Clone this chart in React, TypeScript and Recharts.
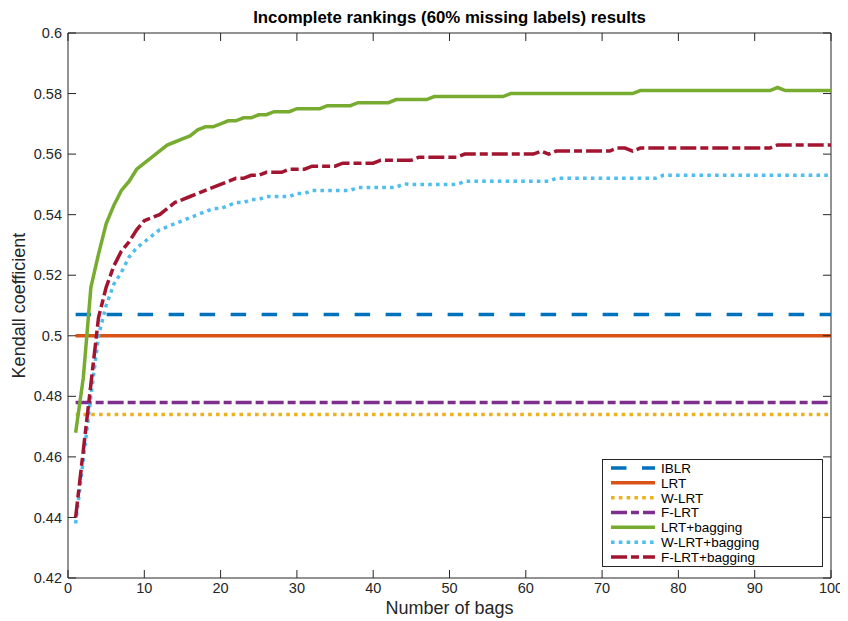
import { LineChart, Line, XAxis, YAxis, ReferenceLine, Legend } from "recharts";

// bag counts on the x axis
const bags = Array.from({ length: 100 }, (_, i) => i + 1);

// flat baselines (no bagging)
const iblr = 0.507;
const lrt = 0.5;
const wLrt = 0.474;
const fLrt = 0.478;

const lrtBagging = [
  0.468, 0.486, 0.516, 0.527, 0.537, 0.543, 0.548, 0.551, 0.555, 0.557,
  0.559, 0.561, 0.563, 0.564, 0.565, 0.566, 0.568, 0.569, 0.569, 0.570,
  0.571, 0.571, 0.572, 0.572, 0.573, 0.573, 0.574, 0.574, 0.574, 0.575,
  0.575, 0.575, 0.575, 0.576, 0.576, 0.576, 0.576, 0.577, 0.577, 0.577,
  0.577, 0.577, 0.578, 0.578, 0.578, 0.578, 0.578, 0.579, 0.579, 0.579,
  0.579, 0.579, 0.579, 0.579, 0.579, 0.579, 0.579, 0.580, 0.580, 0.580,
  0.580, 0.580, 0.580, 0.580, 0.580, 0.580, 0.580, 0.580, 0.580, 0.580,
  0.580, 0.580, 0.580, 0.580, 0.581, 0.581, 0.581, 0.581, 0.581, 0.581,
  0.581, 0.581, 0.581, 0.581, 0.581, 0.581, 0.581, 0.581, 0.581, 0.581,
  0.581, 0.581, 0.582, 0.581, 0.581, 0.581, 0.581, 0.581, 0.581, 0.581,
];

const wLrtBagging = [
  0.438, 0.459, 0.480, 0.500, 0.510, 0.517, 0.521, 0.526, 0.529, 0.531,
  0.533, 0.535, 0.536, 0.537, 0.538, 0.539, 0.540, 0.541, 0.542, 0.542,
  0.543, 0.544, 0.544, 0.545, 0.545, 0.546, 0.546, 0.546, 0.546, 0.547,
  0.547, 0.548, 0.548, 0.548, 0.548, 0.548, 0.548, 0.549, 0.549, 0.549,
  0.549, 0.549, 0.549, 0.5502, 0.550, 0.550, 0.550, 0.550, 0.550, 0.550,
  0.550, 0.551, 0.551, 0.551, 0.551, 0.551, 0.551, 0.551, 0.551, 0.551,
  0.551, 0.551, 0.551, 0.552, 0.552, 0.552, 0.552, 0.552, 0.552, 0.552,
  0.552, 0.552, 0.552, 0.552, 0.552, 0.552, 0.552, 0.553, 0.553, 0.553,
  0.553, 0.553, 0.553, 0.553, 0.553, 0.553, 0.553, 0.553, 0.553, 0.553,
  0.553, 0.553, 0.553, 0.553, 0.553, 0.553, 0.553, 0.553, 0.553, 0.553,
];

const fLrtBagging = [
  0.440, 0.462, 0.484, 0.506, 0.516, 0.523, 0.528, 0.531, 0.535, 0.538,
  0.539, 0.540, 0.542, 0.544, 0.545, 0.546, 0.547, 0.548, 0.549, 0.550,
  0.551, 0.552, 0.552, 0.553, 0.553, 0.554, 0.554, 0.554, 0.555, 0.555,
  0.555, 0.556, 0.556, 0.556, 0.556, 0.557, 0.557, 0.557, 0.557, 0.557,
  0.558, 0.558, 0.558, 0.558, 0.558, 0.559, 0.559, 0.559, 0.559, 0.559,
  0.559, 0.560, 0.560, 0.560, 0.560, 0.560, 0.560, 0.560, 0.560, 0.560,
  0.560, 0.561, 0.560, 0.561, 0.561, 0.561, 0.561, 0.561, 0.561, 0.561,
  0.561, 0.562, 0.562, 0.561, 0.562, 0.562, 0.562, 0.562, 0.562, 0.562,
  0.562, 0.562, 0.562, 0.562, 0.562, 0.562, 0.562, 0.562, 0.562, 0.562,
  0.562, 0.562, 0.563, 0.563, 0.563, 0.563, 0.563, 0.563, 0.563, 0.563,
];

const xTicks = [0, 10, 20, 30, 40, 50, 60, 70, 80, 90, 100];
const yTicks = [0.42, 0.44, 0.46, 0.48, 0.5, 0.52, 0.54, 0.56, 0.58, 0.6];

const data = bags.map((b, i) => ({
  bags: b,
  iblr,
  lrt,
  wLrt,
  fLrt,
  lrtBagging: lrtBagging[i],
  wLrtBagging: wLrtBagging[i],
  fLrtBagging: fLrtBagging[i],
}));

const DOTTED = "3.6 4.2";
const DASHED = "15.5 15.5";
const DASHDOT = "16 4 8 4";

const series = [
  { key: "iblr", name: "IBLR", color: "#0072BD", dash: DASHED },
  { key: "lrt", name: "LRT", color: "#D95319", dash: undefined },
  { key: "wLrt", name: "W-LRT", color: "#EDB120", dash: DOTTED },
  { key: "fLrt", name: "F-LRT", color: "#7E2F8E", dash: DASHDOT },
  { key: "lrtBagging", name: "LRT+bagging", color: "#77AC30", dash: undefined },
  { key: "wLrtBagging", name: "W-LRT+bagging", color: "#4DBEEE", dash: DOTTED },
  { key: "fLrtBagging", name: "F-LRT+bagging", color: "#A2142F", dash: DASHDOT },
];

const W = 840;
const H = 613;
const M = { top: 25, right: 17, left: 10, bottom: 0 };
const Y_AXIS_W = 50;
const X_AXIS_H = 43;
const PLOT_LEFT = M.left + Y_AXIS_W;
const PLOT_RIGHT = W - M.right;
const PLOT_TOP = M.top;
const PLOT_BOTTOM = H - X_AXIS_H;
const TICK_LEN = 8;
const INK = "#262626";
const FONT = "'Liberation Sans', Arial, Helvetica, sans-serif";

const fmt = (v: number) => String(+v.toFixed(2));

function XTick(props: any) {
  const { x, y, payload } = props;
  return (
    <g>
      <line x1={x} x2={x} y1={PLOT_BOTTOM} y2={PLOT_BOTTOM - TICK_LEN} stroke={INK} strokeWidth={1} />
      <line x1={x} x2={x} y1={PLOT_TOP} y2={PLOT_TOP + TICK_LEN} stroke={INK} strokeWidth={1} />
      <text x={x} y={y} dy="0.71em" textAnchor="middle" fill={INK} fontSize={14.5} fontFamily={FONT}>
        {fmt(payload.value)}
      </text>
    </g>
  );
}

function YTick(props: any) {
  const { x, y, payload } = props;
  return (
    <g>
      <line x1={PLOT_LEFT} x2={PLOT_LEFT + TICK_LEN} y1={y} y2={y} stroke={INK} strokeWidth={1} />
      <line x1={PLOT_RIGHT} x2={PLOT_RIGHT - TICK_LEN} y1={y} y2={y} stroke={INK} strokeWidth={1} />
      <text x={x} y={y} dy="0.355em" textAnchor="end" fill={INK} fontSize={14.5} fontFamily={FONT}>
        {fmt(payload.value)}
      </text>
    </g>
  );
}

function LegendBox() {
  const w = 221;
  const h = 108;
  return (
    <svg width={w} height={h} style={{ display: "block" }}>
      <rect x={0.5} y={0.5} width={w - 1} height={h - 1} fill="#fff" stroke={INK} strokeWidth={1} />
      {series.map((s, i) => {
        const cy = 9 + i * 14.83;
        return (
          <g key={s.key}>
            <line x1={9} x2={53} y1={cy} y2={cy} stroke={s.color} strokeWidth={3.5} strokeDasharray={s.dash} />
            <text x={59} y={cy} dy="0.36em" fill="#000" fontSize={13.5} fontFamily={FONT}>
              {s.name}
            </text>
          </g>
        );
      })}
    </svg>
  );
}

export default function App() {
  return (
    <div style={{ position: "relative", width: W, height: H, fontFamily: FONT }}>
      <div
        style={{
          position: "absolute",
          left: PLOT_LEFT,
          width: PLOT_RIGHT - PLOT_LEFT,
          top: 1,
          textAlign: "center",
          fontWeight: 700,
          fontSize: 16.8,
          color: "#000",
          lineHeight: "18px",
        }}
      >
        Incomplete rankings (60% missing labels) results
      </div>
      <LineChart width={W} height={H} data={data} margin={M}>
        <XAxis
          type="number"
          dataKey="bags"
          domain={[0, 100]}
          ticks={xTicks}
          interval={0}
          height={X_AXIS_H}
          tickSize={0}
          tickMargin={5}
          tick={<XTick />}
          axisLine={{ stroke: INK }}
          label={{
            value: "Number of bags",
            position: "insideBottom",
            offset: 7.5,
            fill: INK,
            fontSize: 18,
            fontFamily: FONT,
          }}
        />
        <YAxis
          type="number"
          domain={[0.42, 0.6]}
          ticks={yTicks}
          interval={0}
          width={Y_AXIS_W}
          tickSize={0}
          tickMargin={6}
          tick={<YTick />}
          axisLine={{ stroke: INK }}
          label={{
            value: "Kendall coefficient",
            angle: -90,
            position: "insideLeft",
            offset: 1,
            fill: INK,
            fontSize: 18,
            fontFamily: FONT,
            style: { textAnchor: "middle" },
          }}
        />
        <ReferenceLine y={0.6} stroke={INK} strokeWidth={1} />
        <ReferenceLine x={100} stroke={INK} strokeWidth={1} />
        {series.map((s) => (
          <Line
            key={s.key}
            type="linear"
            dataKey={s.key}
            name={s.name}
            stroke={s.color}
            strokeWidth={3.5}
            strokeDasharray={s.dash}
            dot={false}
            activeDot={false}
            isAnimationActive={false}
          />
        ))}
        <Legend
          layout="vertical"
          align="center"
          verticalAlign="middle"
          content={() => <LegendBox />}
          wrapperStyle={{ left: 593.5, top: 451, width: 221, height: 108 }}
        />
      </LineChart>
    </div>
  );
}
